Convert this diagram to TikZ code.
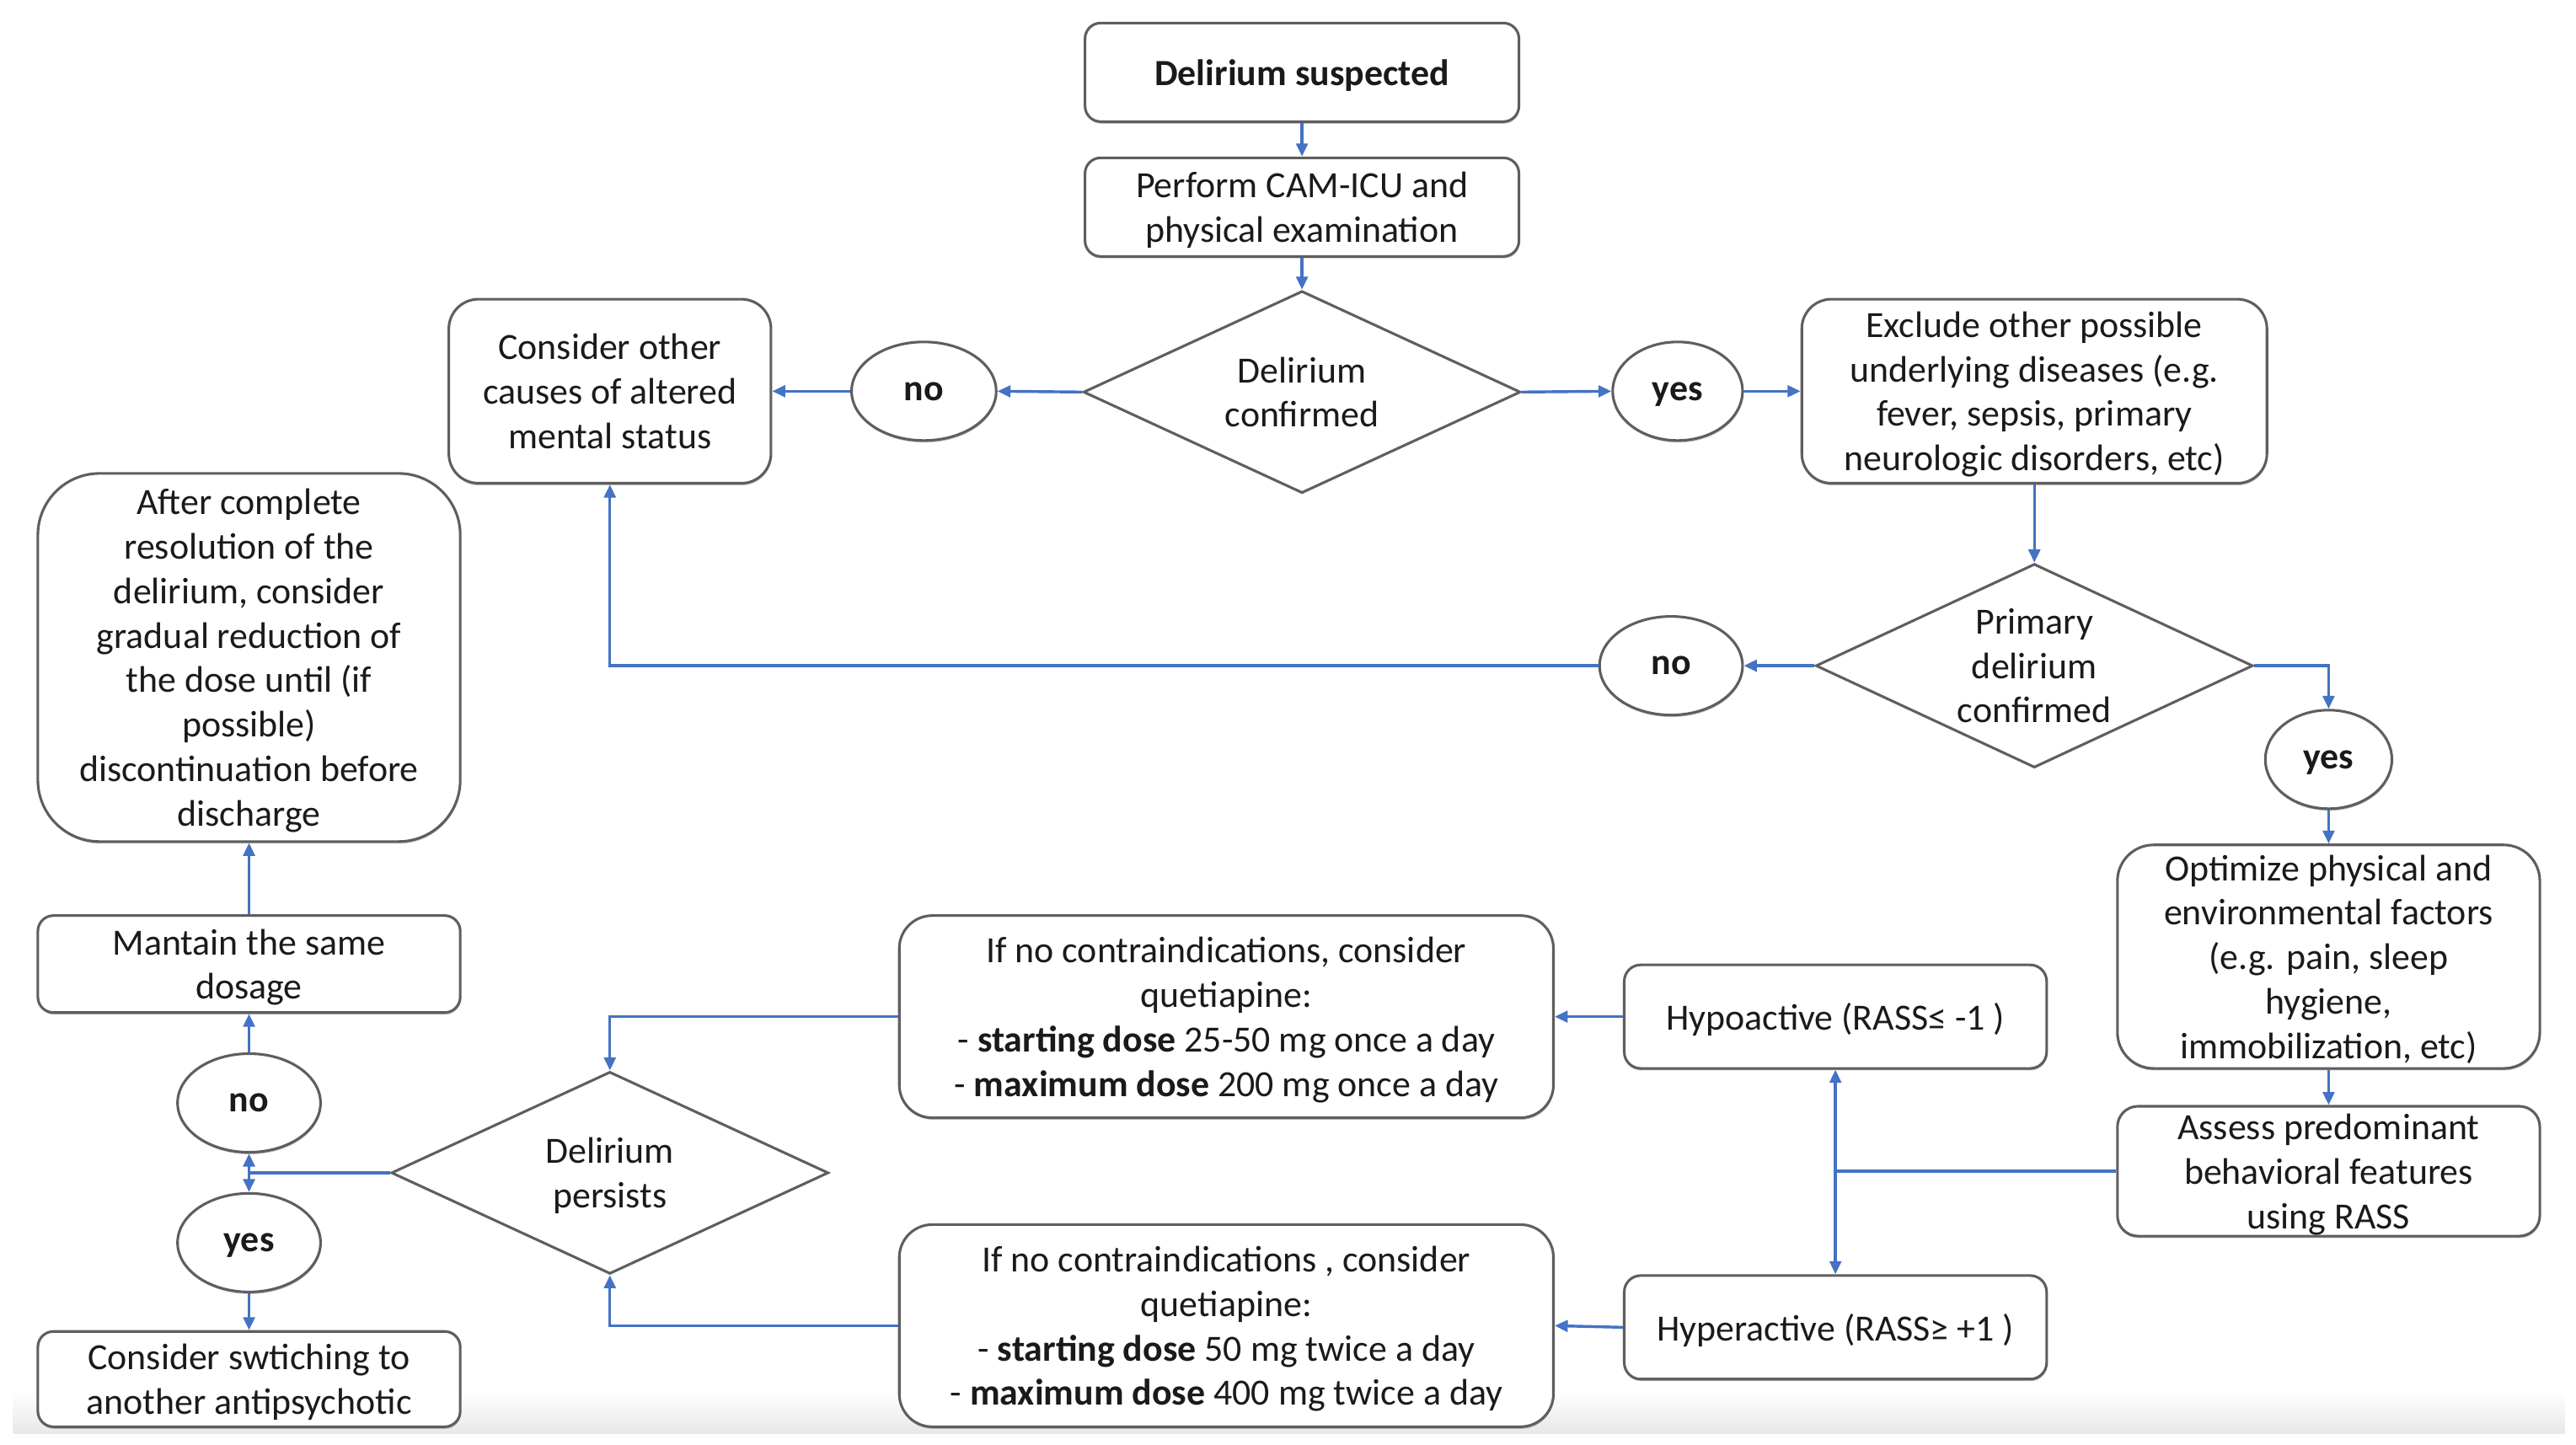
\documentclass[tikz,border=0pt]{standalone}
\usepackage{fontspec}
\setmainfont{Carlito}
\usetikzlibrary{shapes.geometric,arrows.meta,shadows}
\definecolor{lineblue}{HTML}{4472C4}
\definecolor{boxgray}{HTML}{5E5E5E}
\definecolor{txt}{HTML}{1A1A1A}
\begin{document}
\begin{tikzpicture}[x=0.02cm,y=-0.02cm,
  every node/.style={font=\fontsize{12.8}{15.4}\selectfont, text=txt},
  shad/.style={drop shadow={shadow xshift=0.2pt, shadow yshift=-0.7pt, opacity=0.35, fill=black!70}},
  rbox/.style={draw=boxgray, fill=white, line width=0.9pt, rounded corners=#1, align=center, inner sep=0pt, text depth=0pt, shad},
  rbox/.default=0.2cm,
  oval/.style={ellipse, draw=boxgray, fill=white, line width=0.9pt, inner sep=0pt, text depth=0pt, shad, font=\fontsize{12.8}{15.4}\selectfont\bfseries},
  dia/.style={diamond, draw=boxgray, fill=white, line width=0.9pt, inner sep=0pt},
  dtext/.style={align=center, font=\fontsize{12.8}{15.4}\selectfont, text=txt, text depth=0pt},
  conn/.style={draw=lineblue, line width=1pt},
  arr/.style={conn, -{Triangle[length=4.5pt,width=4pt]}},
  darr/.style={conn, {Triangle[length=4.5pt,width=4pt]}-{Triangle[length=4.5pt,width=4pt]}}
]
\useasboundingbox (0,0) rectangle (1567,879);
\fill[white] (0,0) rectangle (1567,879);
\shade[top color=white, bottom color=black!9] (8,846) rectangle (1560,872);

% nodes
\node[rbox=0.19cm, minimum width=5.28cm, minimum height=1.2cm, font=\fontsize{12.8}{15.4}\selectfont\bfseries] (sus) at (792,44) {Delirium suspected};
\node[rbox=0.19cm, minimum width=5.28cm, minimum height=1.2cm] (cam) at (792,126) {Perform CAM-ICU and\\physical examination};
\node[dia, minimum width=5.32cm, minimum height=2.46cm, label={[dtext]center:Delirium\\confirmed}] (d1) at (792,238.5) {};
\node[oval, minimum width=1.76cm, minimum height=1.2cm] (no1) at (562,238) {no};
\node[rbox=0.36cm, minimum width=3.92cm, minimum height=2.24cm] (oth) at (371,238) {Consider other\\causes of altered\\mental status};
\node[oval, minimum width=1.58cm, minimum height=1.2cm] (yes1) at (1020.5,238) {yes};
\node[rbox=0.36cm, minimum width=5.66cm, minimum height=2.24cm] (exc) at (1237.5,238) {Exclude other possible\\underlying diseases (e.g.\\fever, sepsis, primary\\neurologic disorders, etc)};
\node[dia, minimum width=5.32cm, minimum height=2.48cm, label={[dtext]center:Primary\\delirium\\confirmed}] (d2) at (1237.5,405) {};
\node[oval, minimum width=1.74cm, minimum height=1.2cm] (no2) at (1016.5,405) {no};
\node[oval, minimum width=1.54cm, minimum height=1.2cm] (yes2) at (1416.5,462) {yes};
\node[rbox=0.44cm, minimum width=5.14cm, minimum height=2.72cm] (opt) at (1416.5,582) {Optimize physical and\\environmental factors\\(e.g. pain, sleep\\hygiene,\\immobilization, etc)};
\node[rbox=0.25cm, minimum width=5.14cm, minimum height=1.58cm] (ass) at (1416.5,712.5) {Assess predominant\\behavioral features\\using RASS};
\node[rbox=0.2cm, minimum width=5.14cm, minimum height=1.26cm] (hypo) at (1116.5,618.5) {Hypoactive (RASS≤ -1 )};
\node[rbox=0.2cm, minimum width=5.14cm, minimum height=1.26cm] (hyper) at (1116.5,807.5) {Hyperactive (RASS≥ +1 )};
\node[rbox=0.4cm, minimum width=7.96cm, minimum height=2.46cm] (q1) at (746,618.5) {If no contraindications, consider\\quetiapine:\\- \textbf{starting dose} 25-50 mg once a day\\- \textbf{maximum dose} 200 mg once a day};
\node[rbox=0.4cm, minimum width=7.96cm, minimum height=2.46cm] (q2) at (746,806.5) {If no contraindications , consider\\quetiapine:\\- \textbf{starting dose} 50 mg twice a day\\- \textbf{maximum dose} 400 mg twice a day};
\node[dia, minimum width=5.32cm, minimum height=2.46cm, label={[dtext]center:Delirium\\persists}] (d3) at (371,713.5) {};
\node[oval, minimum width=1.74cm, minimum height=1.2cm] (no3) at (151.5,671) {no};
\node[oval, minimum width=1.74cm, minimum height=1.2cm] (yes3) at (151.5,756) {yes};
\node[rbox=0.19cm, minimum width=5.14cm, minimum height=1.16cm] (sw) at (151.5,839) {Consider swtiching to\\another antipsychotic};
\node[rbox=0.19cm, minimum width=5.14cm, minimum height=1.18cm] (man) at (151.5,586.5) {Mantain the same\\dosage};
\node[rbox=0.75cm, minimum width=5.14cm, minimum height=4.48cm] (aft) at (151.5,400) {After complete\\resolution of the\\delirium, consider\\gradual reduction of\\the dose until (if\\possible)\\discontinuation before\\discharge};

% connectors
\draw[arr] (sus.south) -- (cam.north);
\draw[arr] (cam.south) -- (d1.north);
\draw[arr] (d1.west) -- (no1.east);
\draw[arr] (no1.west) -- (oth.east);
\draw[arr] (d1.east) -- (yes1.west);
\draw[arr] (yes1.east) -- (exc.west);
\draw[arr] (exc.south) -- (d2.north);
\draw[arr] (d2.west) -- (no2.east);
\draw[arr] (no2.west) -| (oth.south);
\draw[arr] (d2.east) -| (yes2.north);
\draw[arr] (yes2.south) -- (opt.north);
\draw[arr] (opt.south) -- (ass.north);
\coordinate (j1) at (ass.west -| hypo.south);
\draw[conn] (ass.west) -- (j1);
\draw[darr] (hypo.south) -- (hyper.north);
\draw[arr] (hypo.west) -- (q1.east);
\draw[arr] (hyper.west) -- (q2.east);
\draw[arr] (q1.west) -| (d3.north);
\draw[arr] (q2.west) -| (d3.south);
\coordinate (j2) at (d3.west -| no3.south);
\draw[conn] (d3.west) -- (j2);
\draw[arr] (j2) -- (no3.south);
\draw[arr] (j2) -- (yes3.north);
\draw[arr] (yes3.south) -- (sw.north);
\draw[arr] (no3.north) -- (man.south);
\draw[arr] (man.north) -- (aft.south);
\end{tikzpicture}
\end{document}
